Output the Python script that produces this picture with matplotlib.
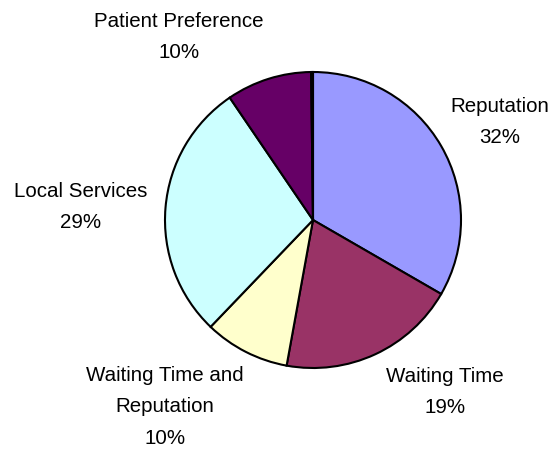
import matplotlib.pyplot as plt

plt.rcParams['font.family'] = ['Liberation Sans', 'DejaVu Sans']

# slice shares (clockwise from 12 o'clock)
categories = ['Reputation', 'Waiting Time', 'Waiting Time and\nReputation',
              'Local Services', 'Patient Preference', '']
shares = [33.3, 19.5, 9.3, 28.3, 9.3, 0.2]
pct_labels = ['32%', '19%', '10%', '29%', '10%', '']
colors = ['#9999FF', '#993366', '#FFFFCC', '#CCFFFF', '#660066', '#000000']

# label centres in pixel coordinates (x, y from top)
label_pos = [(500, 122), (445, 392), (165, 407), (81, 207), (179, 37), None]

W, H = 552, 449
fig = plt.figure(figsize=(W / 100, H / 100), dpi=100)
ax = fig.add_axes([0, 0, 1, 1])

ax.pie(shares, colors=colors, startangle=90, counterclock=False,
       center=(313, H - 220), radius=148, frame=True,
       wedgeprops=dict(edgecolor='black', linewidth=1.5))
ax.set_xlim(0, W)
ax.set_ylim(0, H)
ax.set_aspect('equal')
ax.axis('off')

for cat, pct, pos in zip(categories, pct_labels, label_pos):
    if pos is None:
        continue
    ax.text(pos[0], H - pos[1], cat + '\n' + pct, ha='center', va='center',
            fontsize=14.8, linespacing=1.85, color='black')

plt.savefig('out.png', dpi=100)
